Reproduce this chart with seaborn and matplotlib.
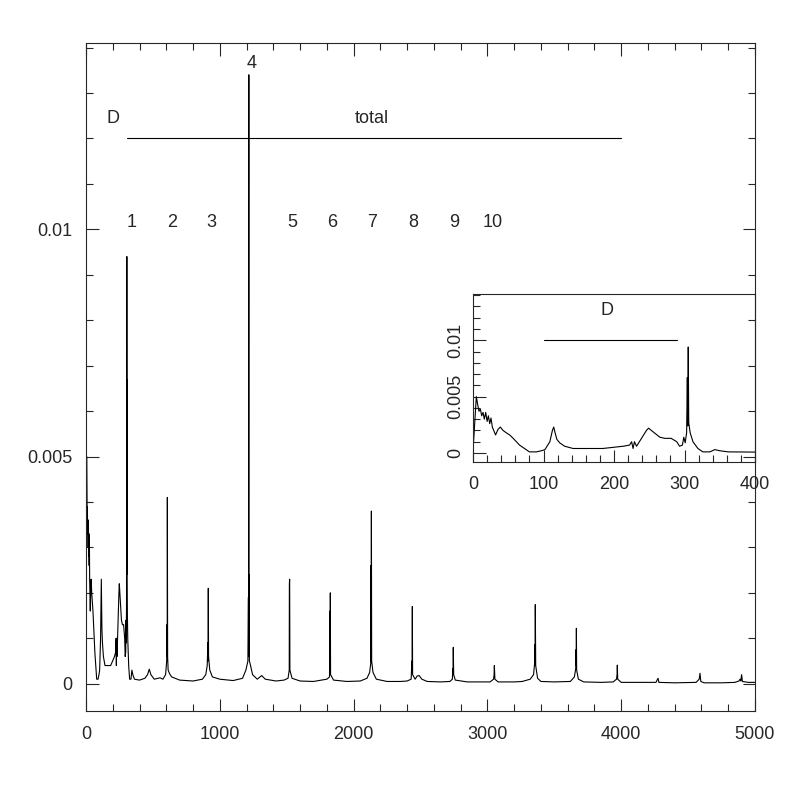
import numpy as np
import pandas as pd
import matplotlib
matplotlib.use("Agg")
import matplotlib.pyplot as plt
import seaborn as sns
from matplotlib.ticker import FixedLocator, MultipleLocator

# spectrum below 360
freq_low = [0, 1, 4.7, 6.6, 8.5, 10.4, 12.3, 14.2, 16, 18, 20, 21.8, 23.7, 25.5, 27.4,
            29.3, 32, 35.5, 38.8, 42.6, 47, 52, 57, 61.5, 66, 73, 80, 90, 97, 102,
            109, 112.6, 114.5, 116.4, 119, 123, 130, 142, 161, 184, 199, 213, 222,
            225, 227, 229, 232, 239, 246, 249, 255, 265, 272, 281, 289, 293, 297,
            299, 301, 303, 304, 304.6, 305.3, 306, 308, 312, 319, 326, 336, 343, 350]
amp_low = [0.0003, 0.0012, 0.0050, 0.0043, 0.0037, 0.0039, 0.0033, 0.0036, 0.0030, 0.0036,
           0.0028, 0.0033, 0.0026, 0.0031, 0.0023, 0.0020, 0.0016, 0.0021, 0.0023, 0.0020,
           0.0018, 0.0016, 0.0013, 0.0010, 0.0007, 0.0004, 0.0001, 0.0001, 0.0002, 0.0003,
           0.0010, 0.0020, 0.0023, 0.0018, 0.0012, 0.0009, 0.0006, 0.0004, 0.0004, 0.0004,
           0.0005, 0.0006, 0.0007, 0.0010, 0.0004, 0.0010, 0.0006, 0.0013, 0.0020, 0.0022,
           0.0019, 0.0014, 0.0013, 0.0013, 0.0010, 0.0006, 0.0007, 0.0014, 0.0009, 0.0018,
           0.0067, 0.0024, 0.0094, 0.0027, 0.0018, 0.0010, 0.0004, 0.0001, 0.0001, 0.0003,
           0.0002]

# harmonics 2..16
freq_high = [362, 400, 440, 460, 473, 485, 510, 553, 575, 595, 603, 606, 607, 608, 610, 614, 625, 640, 700,
             800, 870, 895, 906, 911, 912, 914, 916, 925, 945, 1000,
             1100, 1170, 1195, 1210, 1214, 1215, 1217, 1218, 1219, 1221, 1226, 1245, 1280, 1313, 1340,
             1420, 1480, 1510, 1519, 1520, 1522, 1524, 1540, 1600,
             1700, 1800, 1820, 1823, 1825, 1826, 1828, 1850,
             1950, 2050, 2100, 2120, 2128, 2130, 2131, 2133, 2135, 2145, 2170,
             2250, 2350, 2400, 2430, 2436, 2437, 2439, 2441, 2460, 2475, 2490, 2510, 2550,
             2650, 2720, 2738, 2742, 2743, 2745, 2748, 2760,
             2850, 2950, 3020, 3046, 3050, 3052, 3056, 3080,
             3200, 3260, 3320, 3345, 3353, 3355, 3356, 3358, 3361, 3375, 3400,
             3500, 3620, 3650, 3660, 3663, 3664, 3665, 3667, 3680, 3720,
             3850, 3940, 3965, 3969, 3971, 3974, 4000,
             4150, 4260, 4275, 4282,
             4400, 4560, 4583, 4589, 4595, 4620,
             4750, 4850, 4880, 4888, 4894, 4900, 4906, 4950, 5000]
amp_high = [0.0001, 0.00008, 0.00012, 0.0002, 0.00032, 0.0002, 0.0001, 0.00013, 0.0001, 0.0002, 0.0005, 0.0013, 0.0006, 0.0041, 0.0006, 0.0003, 0.00022, 0.00015, 0.00008,
            0.00006, 0.0001, 0.0002, 0.0004, 0.0009, 0.0005, 0.0021, 0.0006, 0.0003, 0.00015, 0.0001,
            0.00007, 0.00012, 0.0003, 0.0005, 0.0019, 0.0006, 0.0134, 0.0006, 0.0024, 0.0005, 0.00045, 0.0002, 0.0001, 0.00018, 0.0001,
            0.00006, 0.00008, 0.00012, 0.0003, 0.0022, 0.0023, 0.0003, 0.00012, 0.00006,
            0.00005, 0.0001, 0.00015, 0.0016, 0.0002, 0.0020, 0.0002, 0.00008,
            0.00005, 0.00006, 0.00012, 0.00025, 0.00045, 0.0026, 0.0005, 0.0038, 0.0005, 0.00025, 0.0001,
            0.00005, 0.00005, 0.00006, 0.0001, 0.0005, 0.0003, 0.0017, 0.0002, 0.0001, 0.00017, 0.00018, 0.0001, 0.00005,
            0.00004, 0.00005, 0.0001, 0.00033, 0.0002, 0.0008, 0.0002, 0.00008,
            0.00004, 0.00004, 0.00004, 0.0001, 0.0002, 0.0004, 0.0001, 0.00004,
            0.00004, 0.00005, 0.0001, 0.0002, 0.00045, 0.00086, 0.0004, 0.00174, 0.0004, 0.00012, 0.00005,
            0.00004, 0.00005, 0.00015, 0.00033, 0.00075, 0.0004, 0.00122, 0.0003, 0.0001, 0.00004,
            0.00003, 0.00004, 0.0001, 0.0002, 0.00041, 0.0001, 0.00003,
            0.00003, 0.00003, 0.00012, 0.00003,
            0.00002, 0.00003, 0.0001, 0.00023, 0.00005, 0.00002,
            0.00002, 0.00003, 0.00006, 0.0001, 0.00006, 0.0002, 0.00005, 0.00003, 0.00003]

# peak numbers written above the harmonics
peak_names = ["1", "2", "3", "5", "6", "7", "8", "9", "10"]
peak_name_x = [340, 640, 937, 1542, 1838, 2136, 2444, 2750, 3042]

df = pd.DataFrame({"freq": freq_low + freq_high, "amp": amp_low + amp_high})

sns.set_style("ticks")
plt.rcParams["font.family"] = ["Liberation Sans", "DejaVu Sans"]
plt.rcParams["font.size"] = 13
FS = 13

fig = plt.figure(figsize=(7.97, 7.97), dpi=100)
ax = fig.add_axes([0.1079, 0.1079, 0.8394, 0.8382])
sns.lineplot(data=df, x="freq", y="amp", ax=ax, color="black", lw=0.8,
             estimator=None, sort=False)
ax.set_xlim(0, 5000)
ax.set_ylim(-0.0006, 0.0141)
ax.set_xlabel("")
ax.set_ylabel("")
ax.xaxis.set_major_locator(MultipleLocator(1000))
ax.xaxis.set_minor_locator(MultipleLocator(200))
ax.yaxis.set_major_locator(FixedLocator([0, 0.005, 0.01]))
ax.yaxis.set_minor_locator(MultipleLocator(0.001))
ax.set_yticklabels(["0", "0.005", "0.01"])
ax.tick_params(which="both", direction="in", top=True, right=True, width=0.8, labelsize=FS)
ax.tick_params(which="major", length=9)
ax.tick_params(which="minor", length=5)
ax.tick_params(axis="x", which="major", pad=11)
ax.tick_params(axis="y", which="major", pad=10)
for s in ax.spines.values():
    s.set_linewidth(0.8)

# annotations
ax.plot([304, 4000], [0.012, 0.012], color="black", lw=0.8)
ax.text(199, 0.01243, "D", ha="center", va="center", fontsize=FS)
ax.text(2135, 0.01243, "total", ha="center", va="center", fontsize=FS)
ax.text(1238, 0.01364, "4", ha="center", va="center", fontsize=FS)
for name, px in zip(peak_names, peak_name_x):
    ax.text(px, 0.01015, name, ha="center", va="center", fontsize=FS)

# inset: low frequency zoom
axi = fig.add_axes([0.5935, 0.4203, 0.3538, 0.2108])
axi.set_facecolor("none")
sns.lineplot(data=df, x="freq", y="amp", ax=axi, color="black", lw=0.8,
             estimator=None, sort=False)
axi.set_xlim(0, 400)
axi.set_ylim(-0.0008, 0.0141)
axi.set_xlabel("")
axi.set_ylabel("")
axi.xaxis.set_major_locator(MultipleLocator(100))
axi.xaxis.set_minor_locator(MultipleLocator(20))
axi.yaxis.set_major_locator(FixedLocator([0, 0.005, 0.01]))
axi.yaxis.set_minor_locator(MultipleLocator(0.001))
axi.set_yticklabels(["0", "0.005", "0.01"], rotation=90, va="center")
axi.tick_params(which="both", direction="in", width=0.8, labelsize=FS)
axi.tick_params(which="major", length=9)
axi.tick_params(which="minor", length=5)
axi.tick_params(axis="x", which="major", pad=10)
axi.tick_params(axis="y", which="major", pad=6)
for s in axi.spines.values():
    s.set_linewidth(0.8)
axi.plot([100, 290], [0.01, 0.01], color="black", lw=0.8)
axi.text(190, 0.01264, "D", ha="center", va="center", fontsize=FS)

fig.savefig("out.png", dpi=100)
